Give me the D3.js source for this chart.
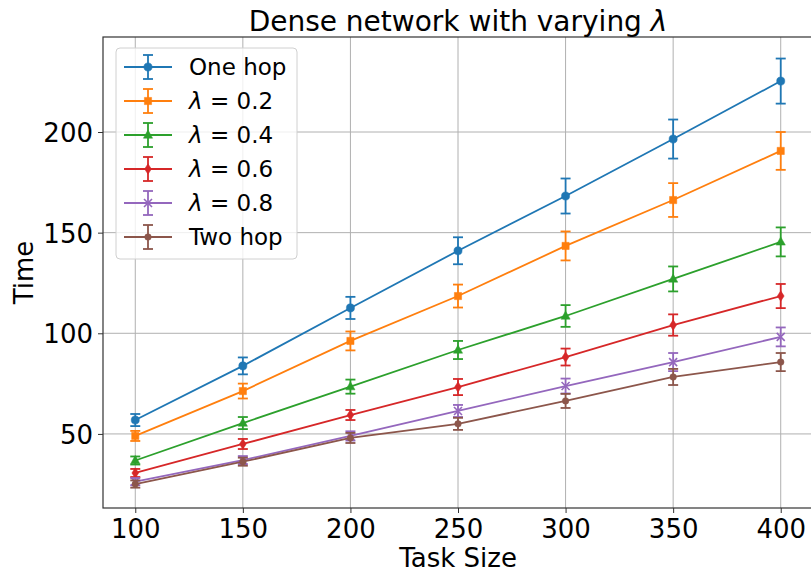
<!DOCTYPE html>
<html>
<head>
<meta charset="utf-8">
<script src="https://cdn.jsdelivr.net/npm/d3@7"></script>
<style>
  html, body { margin: 0; padding: 0; background: #fff; }
  svg { display: block; font-family: "DejaVu Sans", sans-serif; }
</style>
</head>
<body>
<svg id="chart" width="811" height="572"></svg>
<script>
// ---- data ----
const taskSizes = [100, 150, 200, 250, 300, 350, 400];
const seriesNames = ["One hop", "λ=0.2", "λ=0.4", "λ=0.6", "λ=0.8", "Two hop"];
const oneHop   = [56.9, 83.8, 112.6, 141.0, 168.2, 196.5, 225.3];
const lam02    = [49.0, 71.3, 96.2, 118.5, 143.4, 166.2, 190.6];
const lam04    = [36.8, 55.4, 73.5, 91.7, 108.6, 127.0, 145.4];
const lam06    = [30.6, 45.0, 59.4, 73.3, 88.2, 104.1, 118.5];
const lam08    = [26.3, 37.0, 49.0, 61.4, 73.8, 85.7, 98.2];
const twoHop   = [25.1, 36.2, 48.0, 55.0, 66.4, 78.3, 85.7];
const errOneHop = [3.0, 4.2, 5.5, 6.7, 8.7, 9.7, 11.2];
const errLam02  = [2.5, 3.7, 4.7, 5.7, 7.2, 8.4, 9.4];
const errLam04  = [2.0, 3.0, 3.5, 4.5, 5.4, 6.2, 7.2];
const errLam06  = [2.0, 2.5, 2.5, 4.0, 4.2, 5.3, 6.0];
const errLam08  = [1.8, 2.0, 2.3, 3.0, 3.7, 4.5, 4.7];
const errTwoHop = [1.8, 2.0, 2.5, 3.0, 3.5, 4.0, 4.5];
const xTicks = [100, 150, 200, 250, 300, 350, 400];
const yTicks = [50, 100, 150, 200];

const colors = ["#1f77b4", "#ff7f0e", "#2ca02c", "#d62728", "#9467bd", "#8c564b"];
const markers = ["circle", "square", "triangle", "thindiamond", "x", "smallcircle"];
const values = [oneHop, lam02, lam04, lam06, lam08, twoHop];
const errors = [errOneHop, errLam02, errLam04, errLam06, errLam08, errTwoHop];

const series = seriesNames.map((name, i) => ({
  name, color: colors[i], marker: markers[i],
  pts: taskSizes.map((x, j) => ({ x, y: values[i][j], e: errors[i][j] }))
}));

// ---- layout ----
const svg = d3.select("#chart");
const L = 103, R = 813, T = 37, B = 508;
const x = d3.scaleLinear().domain([85, 415]).range([L, R]);
const y = d3.scaleLinear().domain([13.2, 247.2]).range([B, T]);

// grid
const grid = svg.append("g");
grid.selectAll(".gx").data(xTicks).enter().append("line")
  .attr("x1", d => x(d)).attr("x2", d => x(d)).attr("y1", T).attr("y2", B)
  .attr("stroke", "#b0b0b0").attr("stroke-width", 1);
grid.selectAll(".gy").data(yTicks).enter().append("line")
  .attr("y1", d => y(d)).attr("y2", d => y(d)).attr("x1", L).attr("x2", R)
  .attr("stroke", "#b0b0b0").attr("stroke-width", 1);

// axes
const xAxis = d3.axisBottom(x).tickValues(xTicks).tickSize(5).tickPadding(5);
const yAxis = d3.axisLeft(y).tickValues(yTicks).tickSize(5).tickPadding(5);
const gx = svg.append("g").attr("transform", `translate(0,${B})`).call(xAxis);
const gy = svg.append("g").attr("transform", `translate(${L},0)`).call(yAxis);
[gx, gy].forEach(g => {
  g.select(".domain").remove();
  g.selectAll(".tick line").attr("stroke", "#333").attr("stroke-width", 1);
  g.selectAll(".tick text").attr("font-size", 26).attr("fill", "#000")
    .attr("font-family", "DejaVu Sans");
});
gx.selectAll(".tick text").attr("dy", "0.78em");
gy.selectAll(".tick text").attr("dy", "0.36em");

// spines
svg.append("rect").attr("x", L).attr("y", T).attr("width", R - L).attr("height", B - T)
  .attr("fill", "none").attr("stroke", "#333").attr("stroke-width", 1.2);

// marker shapes
function markerPath(type) {
  switch (type) {
    case "circle": return d3.symbol(d3.symbolCircle, 52)();
    case "square": return d3.symbol(d3.symbolSquare, 52)();
    case "triangle": return "M0,-5L4.6,3.2L-4.6,3.2Z";
    case "thindiamond": return "M0,-5.2L3.4,0L0,5.2L-3.4,0Z";
    case "x": return "M-4,-4L4,4M-4,4L4,-4";
    case "smallcircle": return d3.symbol(d3.symbolCircle, 34)();
  }
}

const line = d3.line().x(d => x(d.x)).y(d => y(d.y));
const capW = 5;

const plot = svg.append("g");
series.forEach(s => {
  const g = plot.append("g");
  // error bars
  s.pts.forEach(p => {
    const cx = x(p.x), y0 = y(p.y - p.e), y1 = y(p.y + p.e);
    g.append("line").attr("x1", cx).attr("x2", cx).attr("y1", y0).attr("y2", y1)
      .attr("stroke", s.color).attr("stroke-width", 1.8);
    [y0, y1].forEach(yy => g.append("line")
      .attr("x1", cx - capW).attr("x2", cx + capW).attr("y1", yy).attr("y2", yy)
      .attr("stroke", s.color).attr("stroke-width", 1.8));
  });
  g.append("path").datum(s.pts).attr("d", line)
    .attr("fill", "none").attr("stroke", s.color).attr("stroke-width", 1.8);
  g.selectAll(".m").data(s.pts).enter().append("path")
    .attr("d", markerPath(s.marker))
    .attr("transform", d => `translate(${x(d.x)},${y(d.y)})`)
    .attr("fill", s.marker === "x" ? "none" : s.color)
    .attr("stroke", s.color).attr("stroke-width", s.marker === "x" ? 1.6 : 0.5);
});

// title
const title = svg.append("text").attr("x", (L + R) / 2).attr("y", 31)
  .attr("text-anchor", "middle").attr("font-size", 28).attr("fill", "#000");
title.append("tspan").text("Dense network with varying ");
title.append("tspan").attr("font-style", "italic").text("λ");

// axis labels
svg.append("text").attr("x", (L + R) / 2).attr("y", 567).attr("text-anchor", "middle")
  .attr("font-size", 26).attr("fill", "#000").text("Task Size");
svg.append("text").attr("transform", `translate(33,${(T + B) / 2}) rotate(-90)`)
  .attr("text-anchor", "middle").attr("font-size", 26).attr("fill", "#000").text("Time");

// legend
const lg = svg.append("g");
lg.append("rect").attr("x", 116).attr("y", 48).attr("width", 181).attr("height", 211)
  .attr("rx", 4).attr("fill", "#fff").attr("fill-opacity", 0.8)
  .attr("stroke", "#d0d0d0").attr("stroke-width", 1);
series.forEach((s, i) => {
  const cy = 67 + i * 34;
  const g = lg.append("g");
  g.append("line").attr("x1", 124).attr("x2", 172).attr("y1", cy).attr("y2", cy)
    .attr("stroke", s.color).attr("stroke-width", 1.8);
  g.append("line").attr("x1", 148).attr("x2", 148).attr("y1", cy - 12).attr("y2", cy + 12)
    .attr("stroke", s.color).attr("stroke-width", 1.8);
  [cy - 12, cy + 12].forEach(yy => g.append("line")
    .attr("x1", 148 - capW).attr("x2", 148 + capW).attr("y1", yy).attr("y2", yy)
    .attr("stroke", s.color).attr("stroke-width", 1.8));
  g.append("path").attr("d", markerPath(s.marker)).attr("transform", `translate(148,${cy})`)
    .attr("fill", s.marker === "x" ? "none" : s.color)
    .attr("stroke", s.color).attr("stroke-width", s.marker === "x" ? 1.6 : 0.5);
  const t = g.append("text").attr("x", 189).attr("y", cy + 8)
    .attr("font-size", 23).attr("fill", "#000");
  if (s.name.startsWith("λ")) {
    t.append("tspan").attr("font-style", "italic").text("λ");
    t.append("tspan").text(" = " + s.name.split("=")[1]);
  } else {
    t.text(s.name);
  }
});
</script>
</body>
</html>
